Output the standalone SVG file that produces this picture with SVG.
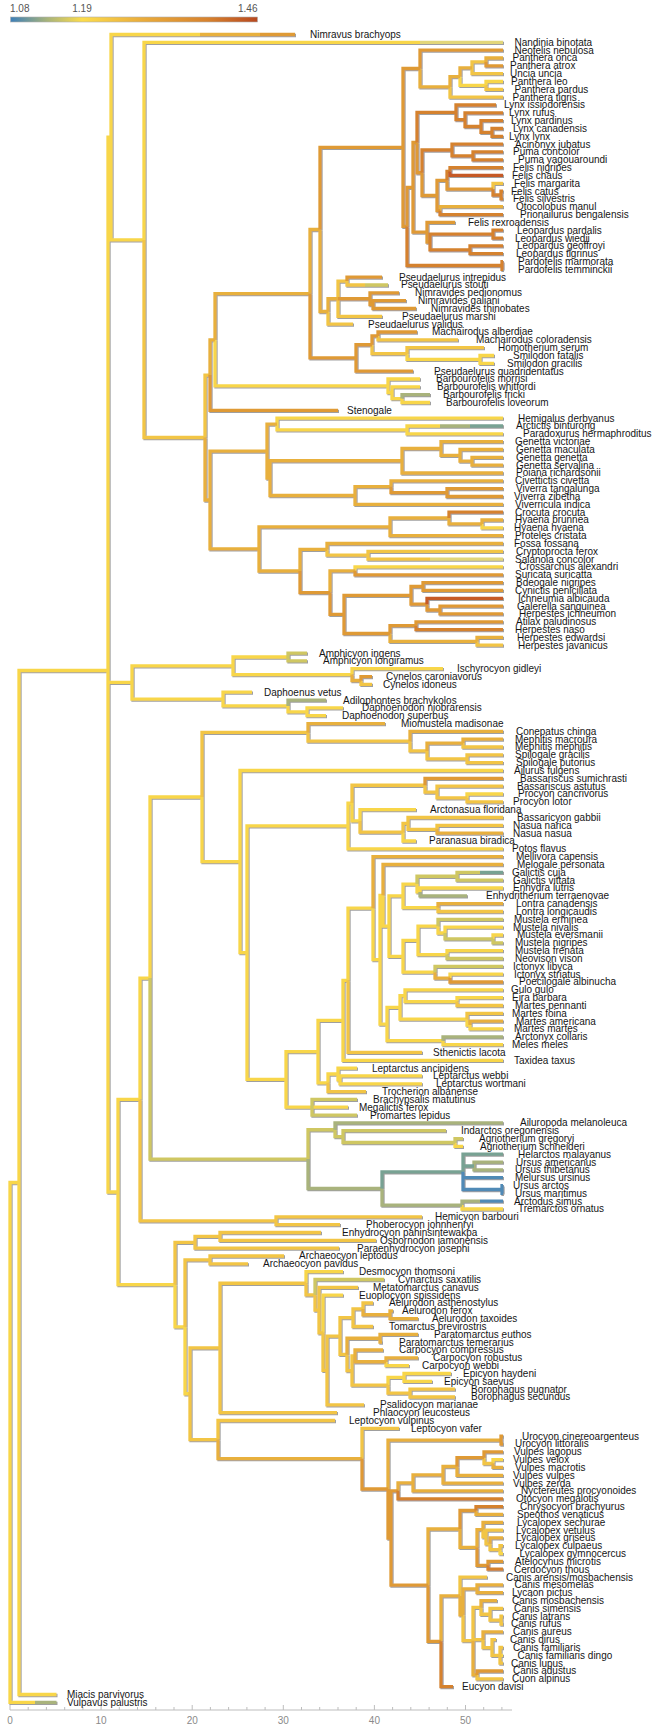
<svg xmlns="http://www.w3.org/2000/svg" width="653" height="1727" viewBox="0 0 653 1727">
<defs>
<linearGradient id="cb" x1="0" y1="0" x2="1" y2="0">
<stop offset="0" stop-color="#3d7fb8"/><stop offset="0.15" stop-color="#a8b47a"/><stop offset="0.29" stop-color="#fcdc4c"/><stop offset="0.55" stop-color="#e9a93a"/><stop offset="0.8" stop-color="#d7822e"/><stop offset="1" stop-color="#b8481f"/>
</linearGradient>
<filter id="sh" x="-5%" y="-5%" width="110%" height="110%"><feDropShadow dx="1" dy="1" stdDeviation="0.35" flood-color="#9a9a9a" flood-opacity="0.95"/></filter>
</defs>
<style>
.e path{fill:none;stroke-width:3.3;stroke-linecap:butt;stroke-linejoin:miter}
.y{stroke:#f8d64a}.y2{stroke:#f2c544}.o1{stroke:#e8b03e}.o2{stroke:#df9a36}.o3{stroke:#d5822f}.r{stroke:#c65a26}.g1{stroke:#cfc762}.pl{stroke:#e2d67a}.g2{stroke:#a9b37c}.t{stroke:#78a293}.b{stroke:#4f8ab6}
text{font-family:"Liberation Sans",Arial,sans-serif;font-size:10px;fill:#1e1e1e}
#tips text{font-size:10.3px;fill:#151515;transform-box:fill-box;transform-origin:0% 50%;transform:scaleX(0.97)}
.ax{fill:#8a8a8a;text-anchor:middle}
.cl{fill:#555}
</style>
<rect width="653" height="1727" fill="#fff"/>
<g id="colorbar">
<rect x="10.5" y="17" width="247" height="5" fill="url(#cb)" stroke="#b0b0b0" stroke-width="0.6"/>
<text class="cl" x="10" y="12">1.08</text>
<text class="cl" x="82" y="12" text-anchor="middle">1.19</text>
<text class="cl" x="257.5" y="12" text-anchor="end">1.46</text>
</g>
<g id="axis">
<path d="M10 1710H512" stroke="#bdbdbd" stroke-width="1" fill="none"/>
<path d="M10 1710v-5M28.2 1710v-3M46.4 1710v-3M64.7 1710v-3M82.9 1710v-3M101.1 1710v-5M119.3 1710v-3M137.5 1710v-3M155.8 1710v-3M174 1710v-3M192.2 1710v-5M210.4 1710v-3M228.6 1710v-3M246.9 1710v-3M265.1 1710v-3M283.3 1710v-5M301.5 1710v-3M319.7 1710v-3M338 1710v-3M356.2 1710v-3M374.4 1710v-5M392.6 1710v-3M410.8 1710v-3M429.1 1710v-3M447.3 1710v-3M465.5 1710v-5M483.7 1710v-3M501.9 1710v-3" stroke="#bdbdbd" stroke-width="1" fill="none"/>
<text class="ax" x="10" y="1724">0</text><text class="ax" x="101.1" y="1724">10</text><text class="ax" x="192.2" y="1724">20</text><text class="ax" x="283.3" y="1724">30</text><text class="ax" x="374.4" y="1724">40</text><text class="ax" x="465.5" y="1724">50</text>
</g>
<g id="connectors" class="e" filter="url(#sh)">
<path class="y" d="M10 1442.4V1182.5H19M19 1182.5V1694.5H56.5M10 1442.4V1702.3H35M19 1182.5V670.5H108M108 670.5V137.2H111M111 137.2V34.5H200M111 137.2V239.9H144M144 239.9V42.3H420M460 76.6V85.4H486M486 85.4V81.5H503M407 353.55V359.4H480M480 359.4V355.5H494M480 359.4V363.3H494M215 339.8V385.85H388M388 385.85V379H420M388 385.85V392.7H392M392 392.7V386.8H420M392 392.7V398.6H402M402 398.6V402.5H430M277 424.05V418.2H503M277 424.05V429.9H407M407 429.9V433.8H503M407 429.9V426H440M482 523.9V527.8H503M355 570.85V566.9H503M108 670.5V682.45H132M108 670.5V1192H118M132 682.45V665.8H233M233 665.8V657H288M233 665.8V674.6H352M352 674.6V668.7H443M132 682.45V699.1H223M223 699.1V692.2H252M223 699.1V705.95H288M288 705.95V711.8H307M307 711.8V707.9H343M307 711.8V715.7H326M118 1192V1099.4H140M140 1099.4V978.05H150M150 978.05V797H202M202 797V861.6H240M240 861.6V770.5H503M240 861.6V952.7H247M247 952.7V825.95H348M348 825.95V803.1H352M467 797.95V794H503M352 803.1V820.95H360M360 820.95V809.7H416M403 832.2V841H416M348 825.95V848.8H503M247 952.7V1079.4H286M286 1079.4V1051.55H318M318 1051.55V1020.3H343M343 1020.3V980.3H348M348 980.3V908.2H373M373 908.2V959.7H380M380 959.7V895.3H383M383 895.3V926.1H389M389 926.1V895.85H403M403 895.85V884.1H417M417 884.1V891.9H420M420 891.9V888H503M403 895.85V907.6H438M389 926.1V956.3H403M403 956.3V940.35H418M418 940.35V926.15H438M438 926.15V933H445M445 933V927.1H503M493 938.9V935H503M418 940.35V954.55H447M447 954.55V950.6H503M403 956.3V972.2H435M450 978.05V974.1H503M380 959.7V1024.05H387M387 1024.05V1007.4H400M400 1007.4V995.7H405M405 995.7V989.8H503M405 995.7V1001.55H457M457 1001.55V997.6H503M400 1007.4V1019.15H467M467 1019.15V1025H470M470 1025V1028.9H503M387 1024.05V1040.7H443M443 1040.7V1044.6H503M343 1020.3V1060.3H503M318 1051.55V1082.8H328M328 1082.8V1074H338M338 1074V1068.1H357M338 1074V1079.85H340M340 1079.85V1075.9H422M340 1079.85V1083.8H422M286 1079.4V1107.2H312M312 1107.2H348M455 1142.5V1146.4H463M462 1205.1V1209H503M118 1192V1284.6H175M175 1284.6V1326.85H185M185 1326.85V1393.75H190M306 1283.25V1271.7H343M323 1332.8V1295.2H343M386 1361.75V1365.7H409M388 1385.2V1377.4H404M404 1377.4V1373.5H451M404 1377.4V1381.3H432M493 1463.5V1459.6H503M500 1549.65V1553.6H503M500 1655.4H503"/>
<path class="y2" d="M144 239.9V437.5H205M205 437.5V375.05H210M472 67.8V61.9H486M472 67.8V73.7H503M486 85.4V89.3H503M450 86.85V97.1H503M493 189.15V183.3H503M338 298.75V281.1H347M347 281.1V285H365M338 298.75V316.4H382M328 311.5V324.2H353M378 335.95V339.9H458M372 344.75V353.55H407M407 353.55V347.7H484M327 549.35V555.2H368M368 555.2V551.3H503M368 555.2V559.1H430M477 641.3V645.2H503M361 680.5V684.4H372M202 797V732.4H308M308 732.4V741.2H410M410 741.2V750.95H427M463 743.1V747H503M427 750.95V758.8H467M467 758.8V754.9H503M467 758.8V762.7H503M352 803.1V785.25H425M425 785.25V792.1H437M437 792.1V786.2H503M437 792.1V797.95H467M467 797.95V801.9H503M360 820.95V832.2H403M403 832.2V823.4H408M408 823.4V817.5H503M408 823.4V829.3H437M437 829.3V825.4H503M438 907.6V911.5H503M457 1001.55V1005.5H503M467 1019.15V1013.3H503M348 980.3V1052.4H422M328 1082.8V1091.6H366M140 1099.4V1220.8H276M276 1220.8V1216.9H422M276 1220.8V1224.7H340M175 1284.6V1242.3H195M195 1242.3V1236.45H220M220 1236.45V1232.5H321M220 1236.45V1240.4H376M195 1242.3V1248.2H339M185 1326.85V1259.95H210M210 1259.95V1256H284M210 1259.95V1263.9H248M190 1393.75V1347.9H220M220 1347.9V1283.25H306M306 1283.25V1294.8H315M315 1294.8V1310.05H319M319 1310.05V1287.3H358M319 1310.05V1332.8H323M323 1332.8V1370.4H327M327 1370.4V1336.05H340M340 1336.05V1317.7H353M353 1317.7V1308.9H363M363 1308.9V1303H373M353 1317.7V1326.5H373M340 1336.05V1354.4H347M347 1354.4V1370.55H352M352 1370.55V1355.9H355M352 1370.55V1385.2H388M388 1385.2V1393.05H410M410 1393.05V1389.1H455M410 1393.05V1397H455M327 1370.4V1404.8H364M220 1347.9V1412.6H337M190 1393.75V1439.6H218M218 1439.6V1420.5H335M362 1458.65V1428.3H399M484 1457.65V1463.5H493M483 1529.6V1536.95H486M486 1536.95V1530.1H503M486 1536.95V1543.8H490M490 1543.8V1549.65H500M500 1549.65V1545.7H503M460 1595.9V1577.1H487M463 1614.75V1640.7H473M473 1640.7V1607.4H481M481 1607.4V1614.25H490M490 1614.25V1608.4H503M490 1614.25V1620.1H501M501 1620.1V1616.2H503M501 1620.1V1624H503M473 1640.7V1639.7H483M483 1639.7V1647.55H492M492 1647.55V1639.7H496M492 1647.55V1655.4H500M500 1655.4V1647.5H503M500 1655.4V1663.2H503M477 1674.95V1678.9H503"/>
<path class="o1" d="M200 34.5H260M210 375.05V339.8H215M215 339.8V293.7H310M310 293.7V229.5H320M420 68.5V86.85H450M450 86.85V76.6H460M460 76.6V67.8H472M486 61.9V58H503M440 210.65V206.7H503M320 229.5V311.5H328M328 311.5V298.75H338M205 437.5V500H210M210 500V451.1H267M267 451.1V424.05H277M267 451.1V478.1H270M270 478.1V460.75H402M402 460.75V448.5H441M441 448.5V441.7H503M441 448.5V455.35H460M460 455.35V449.5H503M460 455.35V461.2H472M472 461.2V457.3H503M472 461.2V465.1H503M402 460.75V473H503M270 478.1V495.5H355M355 495.5V486.7H391M391 486.7V480.8H503M355 495.5V504.3H503M210 500V548.9H259M259 548.9V526.8H390M390 526.8V518H449M449 518V523.9H482M482 523.9V520H503M390 526.8V535.6H503M259 548.9V571H300M300 571V549.35H327M327 549.35V543.5H503M330 592.6V570.85H355M390 633.5V641.3H477M477 641.3V637.4H503M352 674.6V680.5H361M308 732.4V723.6H385M410 741.2V731.4H503M427 750.95V743.1H463M463 743.1V739.2H503M437 829.3V833.2H503M373 908.2V856.7H503M383 895.3V864.5H503M438 907.6V903.7H503M435 972.2V978.05H450M470 1025V1021.1H503M363 1308.9V1314.75H390M390 1314.75V1310.8H393M390 1314.75V1318.7H418M347 1354.4V1338.25H380M380 1338.25V1334.3H418M380 1338.25V1342.2H382M355 1355.9V1350H383M355 1355.9V1361.75H386M386 1361.75V1357.8H418M218 1439.6V1458.65H362M388 1489V1440.05H501M398 1490.8V1482.85H413M413 1482.85V1474.8H443M443 1474.8V1466.5H457M493 1463.5V1467.4H503M457 1466.5V1475.3H503M443 1474.8V1483.1H503M413 1482.85V1490.9H503M428 1585.15V1529H460M476 1510.5V1514.4H503M460 1529V1547.45H477M477 1547.45V1529.6H483M483 1529.6V1522.3H503M490 1543.8V1537.9H503M441 1641.3V1595.9H460M460 1595.9V1614.75H463M463 1614.75V1588.8H477M477 1588.8V1584.9H503M477 1588.8V1592.7H503M481 1607.4V1600.6H497M483 1639.7V1631.9H503M473 1640.7V1674.95H477"/>
<path class="o2" d="M260 34.5H295M320 229.5V147.45H403M403 147.45V68.5H420M420 68.5V50.2H503M486 61.9V65.8H503M403 147.45V226.4H407M407 226.4V187.35H413M413 187.35V142.5H417M417 142.5V172.75H422M422 172.75V195.5H437M437 195.5V180.3H447M447 180.3V189.15H493M437 195.5V210.65H440M413 187.35V232.2H427M427 232.2V222.4H455M427 232.2V242H430M347 281.1V277.2H382M338 298.75H370M370 298.75V292.9H399M370 298.75V304.6H373M373 304.6V300.7H406M373 304.6V308.5H416M310 293.7V357.95H356M356 357.95V344.75H372M372 344.75V335.95H378M378 335.95V332H417M356 357.95V371.2H413M210 375.05V410.3H338M391 486.7V492.55H447M447 492.55V488.6H503M447 492.55V496.5H503M300 571V592.6H330M355 570.85V574.8H503M330 592.6V614.4H344M344 614.4V595.3H411M411 595.3V586.5H423M423 586.5V582.6H503M423 586.5V590.4H503M411 595.3V604.15H427M427 604.15V610H440M440 610V606.1H503M440 610V613.9H503M344 614.4V633.5H390M390 633.5V625.7H416M416 625.7V621.8H503M361 680.5V676.6H372M425 785.25V778.4H503M450 978.05V982H503M362 1458.65V1489H388M501 1440.05V1436.1H503M501 1440.05V1444H503M388 1489V1538H391M391 1538V1490.8H398M457 1466.5V1457.65H484M484 1457.65V1451.8H503M391 1538V1585.15H428M460 1529V1510.5H476M477 1547.45V1565.3H488M488 1565.3V1561.4H503M428 1585.15V1641.3H441M477 1674.95V1671H503"/>
<path class="o3" d="M417 142.5V112.3H456M456 112.3V105H496M456 112.3V119.65H465M465 119.65V112.8H503M465 119.65V126.5H481M481 126.5V120.6H503M481 126.5V132.4H492M492 132.4V128.5H503M492 132.4V136.3H503M422 172.75V150H452M452 150V144.1H503M452 150V155.85H473M473 155.85V151.9H503M473 155.85V159.8H503M447 180.3V171.5H450M450 171.5V167.6H503M493 189.15V195H501M501 195V191.1H503M501 195V198.9H503M440 210.65V214.6H503M430 242V234.15H493M493 234.15V230.2H503M493 234.15V238.1H503M430 242V249.8H470M470 249.8V245.9H503M470 249.8V253.7H503M407 226.4V265.5H502M502 265.5V261.6H503M502 265.5V269.4H503M449 518V512.1H503M416 625.7V629.6H503M398 1490.8V1498.8H503M476 1510.5V1506.6H503M488 1565.3V1569.2H503M441 1641.3V1686.7H453"/>
<path class="r" d="M450 171.5V175.4H503M427 604.15V598.3H503"/>
<path class="g1" d="M365 285H388M288 657V653.1H307M288 657V660.9H307M417 884.1V876.25H457M457 876.25V872.3H480M457 876.25V880.2H503M438 926.15V919.3H503M445 933V938.9H493M493 938.9V942.8H503M447 954.55V958.5H503M435 972.2V966.3H503M312 1107.2V1099.4H357M312 1107.2V1115.1H357M150 978.05V1159.1H308M308 1159.1V1129.75H335M335 1129.75V1136.6H343M343 1136.6V1130.7H446M343 1136.6V1142.5H455M455 1142.5V1138.6H463M315 1294.8V1279.5H384"/>
<path class="pl" d="M420 42.3H503M430 559.1H503"/>
<path class="g2" d="M35 1702.3H56.5M440 426H470M402 398.6V394.7H430M288 705.95V700.1H326M420 891.9V895.8H467M443 1040.7V1036.8H503M335 1129.75V1122.9H503M308 1159.1V1188.5H382M474 1166V1162.1H503M474 1166V1169.9H503M382 1188.5V1205.1H462M462 1205.1V1201.2H480"/>
<path class="t" d="M470 426H503M480 872.3H503M382 1188.5V1171.85H463M463 1171.85V1154.2H503M463 1171.85V1166H474"/>
<path class="b" d="M463 1171.85V1177.7H503M463 1171.85V1189.5H502M502 1189.5V1185.6H503M502 1189.5V1193.4H503M480 1201.2H503"/>
</g>
<g id="tips">
<g id="t1"><text x="310" y="38">Nimravus brachyops</text></g>
<g id="t2"><text x="514.5" y="45.8">Nandinia binotata</text></g>
<g id="t3"><text x="514.5" y="53.7">Neofelis nebulosa</text></g>
<g id="t4"><text x="512.5" y="61.5">Panthera onca</text></g>
<g id="t5"><text x="510" y="69.3">Panthera atrox</text></g>
<g id="t6"><text x="510" y="77.2">Uncia uncia</text></g>
<g id="t7"><text x="511" y="85">Panthera leo</text></g>
<g id="t8"><text x="514.5" y="92.8">Panthera pardus</text></g>
<g id="t9"><text x="512.5" y="100.6">Panthera tigris</text></g>
<g id="t10"><text x="504" y="108.5">Lynx issiodorensis</text></g>
<g id="t11"><text x="509" y="116.3">Lynx rufus</text></g>
<g id="t12"><text x="511" y="124.1">Lynx pardinus</text></g>
<g id="t13"><text x="513" y="132">Lynx canadensis</text></g>
<g id="t14"><text x="509" y="139.8">Lynx lynx</text></g>
<g id="t15"><text x="515" y="147.6">Acinonyx jubatus</text></g>
<g id="t16"><text x="513" y="155.4">Puma concolor</text></g>
<g id="t17"><text x="518" y="163.3">Puma yagouaroundi</text></g>
<g id="t18"><text x="513" y="171.1">Felis nigripes</text></g>
<g id="t19"><text x="512" y="178.9">Felis chaus</text></g>
<g id="t20"><text x="514" y="186.8">Felis margarita</text></g>
<g id="t21"><text x="511" y="194.6">Felis catus</text></g>
<g id="t22"><text x="513" y="202.4">Felis silvestris</text></g>
<g id="t23"><text x="516" y="210.2">Otocolobus manul</text></g>
<g id="t24"><text x="520" y="218.1">Prionailurus bengalensis</text></g>
<g id="t25"><text x="468" y="225.9">Felis rexroadensis</text></g>
<g id="t26"><text x="517" y="233.7">Leopardus pardalis</text></g>
<g id="t27"><text x="515" y="241.6">Leopardus wiedii</text></g>
<g id="t28"><text x="517" y="249.4">Leopardus geoffroyi</text></g>
<g id="t29"><text x="516" y="257.2">Leopardus tigrinus</text></g>
<g id="t30"><text x="518" y="265.1">Pardofelis marmorata</text></g>
<g id="t31"><text x="518" y="272.9">Pardofelis temminckii</text></g>
<g id="t32"><text x="399" y="280.7">Pseudaelurus intrepidus</text></g>
<g id="t33"><text x="401" y="288.5">Pseudaelurus stouti</text></g>
<g id="t34"><text x="415" y="296.4">Nimravides pedionomus</text></g>
<g id="t35"><text x="418" y="304.2">Nimravides galiani</text></g>
<g id="t36"><text x="431" y="312">Nimravides thinobates</text></g>
<g id="t37"><text x="402" y="319.9">Pseudaelurus marshi</text></g>
<g id="t38"><text x="368" y="327.7">Pseudaelurus validus</text></g>
<g id="t39"><text x="432" y="335.5">Machairodus alberdiae</text></g>
<g id="t40"><text x="476" y="343.4">Machairodus coloradensis</text></g>
<g id="t41"><text x="498" y="351.2">Homotherium serum</text></g>
<g id="t42"><text x="513" y="359">Smilodon fatalis</text></g>
<g id="t43"><text x="507" y="366.8">Smilodon gracilis</text></g>
<g id="t44"><text x="434" y="374.7">Pseudaelurus quadridentatus</text></g>
<g id="t45"><text x="436" y="382.5">Barbourofelis morrisi</text></g>
<g id="t46"><text x="437" y="390.3">Barbourofelis whitfordi</text></g>
<g id="t47"><text x="443" y="398.2">Barbourofelis fricki</text></g>
<g id="t48"><text x="446" y="406">Barbourofelis loveorum</text></g>
<g id="t49"><text x="347" y="413.8">Stenogale</text></g>
<g id="t50"><text x="518" y="421.7">Hemigalus derbyanus</text></g>
<g id="t51"><text x="516" y="429.5">Arctictis binturong</text></g>
<g id="t52"><text x="523" y="437.3">Paradoxurus hermaphroditus</text></g>
<g id="t53"><text x="515" y="445.2">Genetta victoriae</text></g>
<g id="t54"><text x="516" y="453">Genetta maculata</text></g>
<g id="t55"><text x="516" y="460.8">Genetta genetta</text></g>
<g id="t56"><text x="516" y="468.6">Genetta servalina</text></g>
<g id="t57"><text x="516" y="476.5">Poiana richardsonii</text></g>
<g id="t58"><text x="515" y="484.3">Civettictis civetta</text></g>
<g id="t59"><text x="516" y="492.1">Viverra tangalunga</text></g>
<g id="t60"><text x="514" y="500">Viverra zibetha</text></g>
<g id="t61"><text x="515" y="507.8">Viverricula indica</text></g>
<g id="t62"><text x="515" y="515.6">Crocuta crocuta</text></g>
<g id="t63"><text x="515" y="523.5">Hyaena brunnea</text></g>
<g id="t64"><text x="514" y="531.3">Hyaena hyaena</text></g>
<g id="t65"><text x="515" y="539.1">Proteles cristata</text></g>
<g id="t66"><text x="514" y="547">Fossa fossana</text></g>
<g id="t67"><text x="516" y="554.8">Cryptoprocta ferox</text></g>
<g id="t68"><text x="515" y="562.6">Salanoia concolor</text></g>
<g id="t69"><text x="519" y="570.4">Crossarchus alexandri</text></g>
<g id="t70"><text x="515" y="578.3">Suricata suricatta</text></g>
<g id="t71"><text x="516" y="586.1">Bdeogale nigripes</text></g>
<g id="t72"><text x="515" y="593.9">Cynictis penicillata</text></g>
<g id="t73"><text x="518" y="601.8">Ichneumia albicauda</text></g>
<g id="t74"><text x="517" y="609.6">Galerella sanguinea</text></g>
<g id="t75"><text x="519" y="617.4">Herpestes ichneumon</text></g>
<g id="t76"><text x="516" y="625.3">Atilax paludinosus</text></g>
<g id="t77"><text x="515" y="633.1">Herpestes naso</text></g>
<g id="t78"><text x="517" y="640.9">Herpestes edwardsi</text></g>
<g id="t79"><text x="518" y="648.7">Herpestes javanicus</text></g>
<g id="t80"><text x="319" y="656.6">Amphicyon ingens</text></g>
<g id="t81"><text x="323" y="664.4">Amphicyon longiramus</text></g>
<g id="t82"><text x="457" y="672.2">Ischyrocyon gidleyi</text></g>
<g id="t83"><text x="386" y="680.1">Cynelos caroniavorus</text></g>
<g id="t84"><text x="383" y="687.9">Cynelos idoneus</text></g>
<g id="t85"><text x="264" y="695.7">Daphoenus vetus</text></g>
<g id="t86"><text x="343" y="703.6">Adilophontes brachykolos</text></g>
<g id="t87"><text x="362" y="711.4">Daphoenodon niobrarensis</text></g>
<g id="t88"><text x="342" y="719.2">Daphoenodon superbus</text></g>
<g id="t89"><text x="401" y="727.1">Miomustela madisonae</text></g>
<g id="t90"><text x="516" y="734.9">Conepatus chinga</text></g>
<g id="t91"><text x="515" y="742.7">Mephitis macroura</text></g>
<g id="t92"><text x="515" y="750.5">Mephitis mephitis</text></g>
<g id="t93"><text x="515" y="758.4">Spilogale gracilis</text></g>
<g id="t94"><text x="516" y="766.2">Spilogale putorius</text></g>
<g id="t95"><text x="514" y="774">Ailurus fulgens</text></g>
<g id="t96"><text x="520" y="781.9">Bassariscus sumichrasti</text></g>
<g id="t97"><text x="517" y="789.7">Bassariscus astutus</text></g>
<g id="t98"><text x="518" y="797.5">Procyon cancrivorus</text></g>
<g id="t99"><text x="513" y="805.4">Procyon lotor</text></g>
<g id="t100"><text x="430" y="813.2">Arctonasua floridana</text></g>
<g id="t101"><text x="517" y="821">Bassaricyon gabbii</text></g>
<g id="t102"><text x="513" y="828.9">Nasua narica</text></g>
<g id="t103"><text x="513" y="836.7">Nasua nasua</text></g>
<g id="t104"><text x="429" y="844.5">Paranasua biradica</text></g>
<g id="t105"><text x="512" y="852.3">Potos flavus</text></g>
<g id="t106"><text x="516" y="860.2">Mellivora capensis</text></g>
<g id="t107"><text x="517" y="868">Melogale personata</text></g>
<g id="t108"><text x="512" y="875.8">Galictis cuja</text></g>
<g id="t109"><text x="513" y="883.7">Galictis vittata</text></g>
<g id="t110"><text x="513" y="891.5">Enhydra lutris</text></g>
<g id="t111"><text x="486" y="899.3">Enhydritherium terraenovae</text></g>
<g id="t112"><text x="516" y="907.2">Lontra canadensis</text></g>
<g id="t113"><text x="516" y="915">Lontra longicaudis</text></g>
<g id="t114"><text x="514" y="922.8">Mustela erminea</text></g>
<g id="t115"><text x="513" y="930.6">Mustela nivalis</text></g>
<g id="t116"><text x="517" y="938.5">Mustela eversmanii</text></g>
<g id="t117"><text x="515" y="946.3">Mustela nigripes</text></g>
<g id="t118"><text x="515" y="954.1">Mustela frenata</text></g>
<g id="t119"><text x="515" y="962">Neovison vison</text></g>
<g id="t120"><text x="513" y="969.8">Ictonyx libyca</text></g>
<g id="t121"><text x="514" y="977.6">Ictonyx striatus</text></g>
<g id="t122"><text x="519" y="985.5">Poecilogale albinucha</text></g>
<g id="t123"><text x="511" y="993.3">Gulo gulo</text></g>
<g id="t124"><text x="512" y="1001.1">Eira barbara</text></g>
<g id="t125"><text x="515" y="1009">Martes pennanti</text></g>
<g id="t126"><text x="512" y="1016.8">Martes foina</text></g>
<g id="t127"><text x="516" y="1024.6">Martes americana</text></g>
<g id="t128"><text x="514" y="1032.4">Martes martes</text></g>
<g id="t129"><text x="515" y="1040.3">Arctonyx collaris</text></g>
<g id="t130"><text x="512" y="1048.1">Meles meles</text></g>
<g id="t131"><text x="433" y="1055.9">Sthenictis lacota</text></g>
<g id="t132"><text x="514" y="1063.8">Taxidea taxus</text></g>
<g id="t133"><text x="372" y="1071.6">Leptarctus ancipidens</text></g>
<g id="t134"><text x="433" y="1079.4">Leptarctus webbi</text></g>
<g id="t135"><text x="436" y="1087.3">Leptarctus wortmani</text></g>
<g id="t136"><text x="382" y="1095.1">Trocherion albanense</text></g>
<g id="t137"><text x="373" y="1102.9">Brachypsalis matutinus</text></g>
<g id="t138"><text x="359" y="1110.7">Megalictis ferox</text></g>
<g id="t139"><text x="370" y="1118.6">Promartes lepidus</text></g>
<g id="t140"><text x="520" y="1126.4">Ailuropoda melanoleuca</text></g>
<g id="t141"><text x="461" y="1134.2">Indarctos oregonensis</text></g>
<g id="t142"><text x="479" y="1142.1">Agriotherium gregoryi</text></g>
<g id="t143"><text x="480" y="1149.9">Agriotherium schneideri</text></g>
<g id="t144"><text x="518" y="1157.7">Helarctos malayanus</text></g>
<g id="t145"><text x="516" y="1165.6">Ursus americanus</text></g>
<g id="t146"><text x="515" y="1173.4">Ursus thibetanus</text></g>
<g id="t147"><text x="515" y="1181.2">Melursus ursinus</text></g>
<g id="t148"><text x="513" y="1189.1">Ursus arctos</text></g>
<g id="t149"><text x="515" y="1196.9">Ursus maritimus</text></g>
<g id="t150"><text x="514" y="1204.7">Arctodus simus</text></g>
<g id="t151"><text x="518" y="1212.5">Tremarctos ornatus</text></g>
<g id="t152"><text x="435" y="1220.4">Hemicyon barbouri</text></g>
<g id="t153"><text x="366" y="1228.2">Phoberocyon johnhenryi</text></g>
<g id="t154"><text x="342" y="1236">Enhydrocyon pahinsintewakpa</text></g>
<g id="t155"><text x="380" y="1243.9">Osbornodon iamonensis</text></g>
<g id="t156"><text x="357" y="1251.7">Paraenhydrocyon josephi</text></g>
<g id="t157"><text x="299" y="1259.5">Archaeocyon leptodus</text></g>
<g id="t158"><text x="263" y="1267.4">Archaeocyon pavidus</text></g>
<g id="t159"><text x="359" y="1275.2">Desmocyon thomsoni</text></g>
<g id="t160"><text x="398" y="1283">Cynarctus saxatilis</text></g>
<g id="t161"><text x="373" y="1290.8">Metatomarctus canavus</text></g>
<g id="t162"><text x="359" y="1298.7">Euoplocyon spissidens</text></g>
<g id="t163"><text x="389" y="1306.5">Aelurodon asthenostylus</text></g>
<g id="t164"><text x="402" y="1314.3">Aelurodon ferox</text></g>
<g id="t165"><text x="432" y="1322.2">Aelurodon taxoides</text></g>
<g id="t166"><text x="389" y="1330">Tomarctus brevirostris</text></g>
<g id="t167"><text x="434" y="1337.8">Paratomarctus euthos</text></g>
<g id="t168"><text x="399" y="1345.7">Paratomarctus temerarius</text></g>
<g id="t169"><text x="399" y="1353.5">Carpocyon compressus</text></g>
<g id="t170"><text x="433" y="1361.3">Carpocyon robustus</text></g>
<g id="t171"><text x="422" y="1369.2">Carpocyon webbi</text></g>
<g id="t172"><text x="463" y="1377">Epicyon haydeni</text></g>
<g id="t173"><text x="444" y="1384.8">Epicyon saevus</text></g>
<g id="t174"><text x="471" y="1392.6">Borophagus pugnator</text></g>
<g id="t175"><text x="471" y="1400.5">Borophagus secundus</text></g>
<g id="t176"><text x="380" y="1408.3">Psalidocyon marianae</text></g>
<g id="t177"><text x="373" y="1416.1">Phlaocyon leucosteus</text></g>
<g id="t178"><text x="349" y="1424">Leptocyon vulpinus</text></g>
<g id="t179"><text x="411" y="1431.8">Leptocyon vafer</text></g>
<g id="t180"><text x="522" y="1439.6">Urocyon cinereoargenteus</text></g>
<g id="t181"><text x="515" y="1447.5">Urocyon littoralis</text></g>
<g id="t182"><text x="514" y="1455.3">Vulpes lagopus</text></g>
<g id="t183"><text x="513" y="1463.1">Vulpes velox</text></g>
<g id="t184"><text x="515" y="1470.9">Vulpes macrotis</text></g>
<g id="t185"><text x="513" y="1478.8">Vulpes vulpes</text></g>
<g id="t186"><text x="513" y="1486.6">Vulpes zerda</text></g>
<g id="t187"><text x="521" y="1494.4">Nyctereutes procyonoides</text></g>
<g id="t188"><text x="516" y="1502.3">Otocyon megalotis</text></g>
<g id="t189"><text x="520" y="1510.1">Chrysocyon brachyurus</text></g>
<g id="t190"><text x="517" y="1517.9">Speothos venaticus</text></g>
<g id="t191"><text x="517" y="1525.8">Lycalopex sechurae</text></g>
<g id="t192"><text x="516" y="1533.6">Lycalopex vetulus</text></g>
<g id="t193"><text x="516" y="1541.4">Lycalopex griseus</text></g>
<g id="t194"><text x="515" y="1549.2">Lycalopex culpaeus</text></g>
<g id="t195"><text x="519.5" y="1557.1">Lycalopex gymnocercus</text></g>
<g id="t196"><text x="515" y="1564.9">Atelocynus microtis</text></g>
<g id="t197"><text x="514" y="1572.7">Cerdocyon thous</text></g>
<g id="t198"><text x="506" y="1580.6">Canis arensis/mosbachensis</text></g>
<g id="t199"><text x="514.5" y="1588.4">Canis mesomelas</text></g>
<g id="t200"><text x="512" y="1596.2">Lycaon pictus</text></g>
<g id="t201"><text x="512" y="1604.1">Canis mosbachensis</text></g>
<g id="t202"><text x="514" y="1611.9">Canis simensis</text></g>
<g id="t203"><text x="512" y="1619.7">Canis latrans</text></g>
<g id="t204"><text x="511" y="1627.5">Canis rufus</text></g>
<g id="t205"><text x="513" y="1635.4">Canis aureus</text></g>
<g id="t206"><text x="510" y="1643.2">Canis dirus</text></g>
<g id="t207"><text x="513" y="1651">Canis familiaris</text></g>
<g id="t208"><text x="517.5" y="1658.9">Canis familiaris dingo</text></g>
<g id="t209"><text x="511" y="1666.7">Canis lupus</text></g>
<g id="t210"><text x="513" y="1674.5">Canis adustus</text></g>
<g id="t211"><text x="512" y="1682.4">Cuon alpinus</text></g>
<g id="t212"><text x="462" y="1690.2">Eucyon davisi</text></g>
<g id="t213"><text x="67" y="1698">Miacis parvivorus</text></g>
<g id="t214"><text x="67" y="1705.8">Vulpavus palustris</text></g>
</g>
</svg>
